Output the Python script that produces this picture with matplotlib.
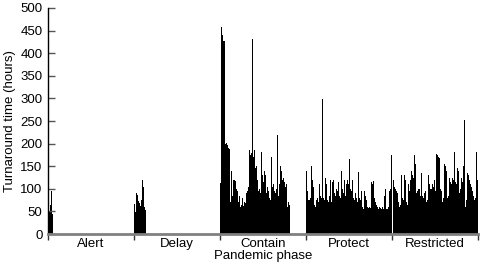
import matplotlib
matplotlib.use("Agg")
import matplotlib.pyplot as plt
import numpy as np

plt.rcParams['font.family'] = ['Liberation Sans', 'DejaVu Sans']

phases = ["Alert", "Delay", "Contain", "Protect", "Restricted"]
days_per_phase = 86

# first day (within its phase) that has data
phase_first_day = [0, 0, 0, 0, 1]

alert = [119, 51, 64, 96, 45]
delay = [66, 49, 90, 86, 72, 68, 62, 75, 119, 105, 60, 53]
contain = [113, 458, 440, 428, 428, 200, 201, 198, 190, 188,
           70, 140, 85, 120, 120, 118, 100, 95, 70, 85,
           60, 65, 80, 62, 70, 68, 90, 95, 105, 185,
           175, 180, 431, 170, 185, 145, 150, 120, 95, 100,
           90, 181, 130, 115, 140, 130, 90, 105, 95, 80,
           75, 170, 105, 110, 95, 90, 100, 220, 85, 110,
           150, 140, 120, 125, 115, 105, 110, 60, 70, 65]
protect = [140, 95, 75, 75, 80, 150, 120, 105, 65, 60,
           75, 80, 70, 110, 85, 80, 298, 80, 75, 125,
           110, 75, 70, 85, 120, 70, 115, 120, 90, 85,
           100, 95, 115, 85, 80, 140, 100, 90, 120, 85,
           110, 120, 110, 165, 100, 95, 120, 80, 75, 90,
           80, 70, 138, 80, 75, 95, 60, 55, 95, 85,
           75, 60, 58, 60, 58, 115, 110, 118, 80, 70,
           65, 60, 55, 60, 58, 55, 60, 55, 85, 100,
           55, 55, 60, 95, 100, 175]
restricted = [120, 105, 100, 95, 90, 70, 60, 65, 130, 80,
              75, 130, 120, 70, 65, 110, 95, 120, 140, 130,
              125, 175, 155, 90, 95, 100, 100, 85, 135, 85,
              80, 90, 95, 70, 75, 130, 110, 100, 100, 110,
              105, 120, 95, 178, 175, 170, 168, 100, 95, 70,
              80, 155, 150, 140, 80, 85, 124, 115, 110, 125,
              120, 182, 115, 110, 146, 140, 90, 100, 125, 115,
              150, 252, 60, 75, 134, 130, 120, 110, 105, 95,
              85, 75, 80, 181, 120]

series = [alert, delay, contain, protect, restricted]

fig = plt.figure(figsize=(4.8, 2.7), dpi=100)
ax = fig.add_axes([0.1, 0.1333, 0.896, 0.8371])

for i, vals in enumerate(series):
    start = i * days_per_phase + phase_first_day[i]
    x = start + np.arange(len(vals))
    ax.bar(x, vals, width=1.0, align='edge', color='black', linewidth=0)

n = len(phases)
ax.set_xlim(0, n * days_per_phase)
ax.set_ylim(0, 500)
ax.set_yticks(np.arange(0, 501, 50))

bounds = np.arange(n + 1) * days_per_phase
mids = (bounds[:-1] + bounds[1:]) / 2
ax.set_xticks(bounds)
ax.set_xticklabels([])
ax.set_xticks(mids, minor=True)
ax.set_xticklabels(phases, minor=True, fontsize=9.5)
ax.tick_params(axis='x', which='major', direction='out', length=4, width=1, color='#333333')
ax.tick_params(axis='x', which='minor', length=0, pad=3)
ax.tick_params(axis='y', direction='in', length=5, width=1, color='#555555', labelsize=9.5, pad=4)

for s in ['top', 'right']:
    ax.spines[s].set_visible(False)
ax.spines['left'].set_color('black')
ax.spines['left'].set_linewidth(1)
ax.spines['bottom'].set_color('#808080')
ax.spines['bottom'].set_linewidth(2)

ax.set_ylabel("Turnaround time (hours)", fontsize=9.5, labelpad=3)
ax.set_xlabel("Pandemic phase", fontsize=9.5, labelpad=0)

fig.savefig("out.png", dpi=100)
